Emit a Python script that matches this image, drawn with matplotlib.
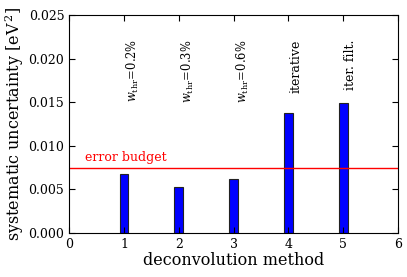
import numpy as np
import matplotlib
matplotlib.use("Agg")
import matplotlib.pyplot as plt

plt.rcParams['font.family'] = 'DejaVu Serif'
plt.rcParams['mathtext.fontset'] = 'dejavuserif'

methods = [1, 2, 3, 4, 5]
uncertainty = [0.0068, 0.0053, 0.0062, 0.0138, 0.0149]
method_labels = [r'$w_{\rm thr}\!=\!0.2\%$', r'$w_{\rm thr}\!=\!0.3\%$',
                 r'$w_{\rm thr}\!=\!0.6\%$', 'iterative', 'iter. filt.']
label_sizes = [8.3, 8.3, 8.3, 9, 9]
error_budget = 0.0075

fig = plt.figure(figsize=(4.07, 2.77), dpi=100)
ax = fig.add_axes([0.17, 0.159, 0.808, 0.787])

ax.bar(methods, uncertainty, width=0.16, color='blue', edgecolor='#222222', linewidth=0.8)
ax.axhline(error_budget, color='red', linewidth=1)
ax.text(0.28, error_budget + 0.0004, 'error budget', color='red', fontsize=9, va='bottom')

for m, lab, fs in zip(methods, method_labels, label_sizes):
    ax.text(m + 0.02, 0.0222, lab, rotation=90, ha='left', va='top', fontsize=fs)

ax.set_xlim(0, 6)
ax.set_ylim(0, 0.025)
ax.set_xticks(range(7))
ax.set_yticks(np.arange(0, 0.0251, 0.005))
ax.set_yticklabels(['%.3f' % v for v in np.arange(0, 0.0251, 0.005)])
ax.tick_params(direction='in', top=True, right=True, labelsize=9, length=4)
ax.set_xlabel('deconvolution method', fontsize=11.5, labelpad=1)
ax.set_ylabel(r'systematic uncertainty [eV$^{\,2}$]', fontsize=11.5, labelpad=2)

fig.savefig('out.png', dpi=100)
